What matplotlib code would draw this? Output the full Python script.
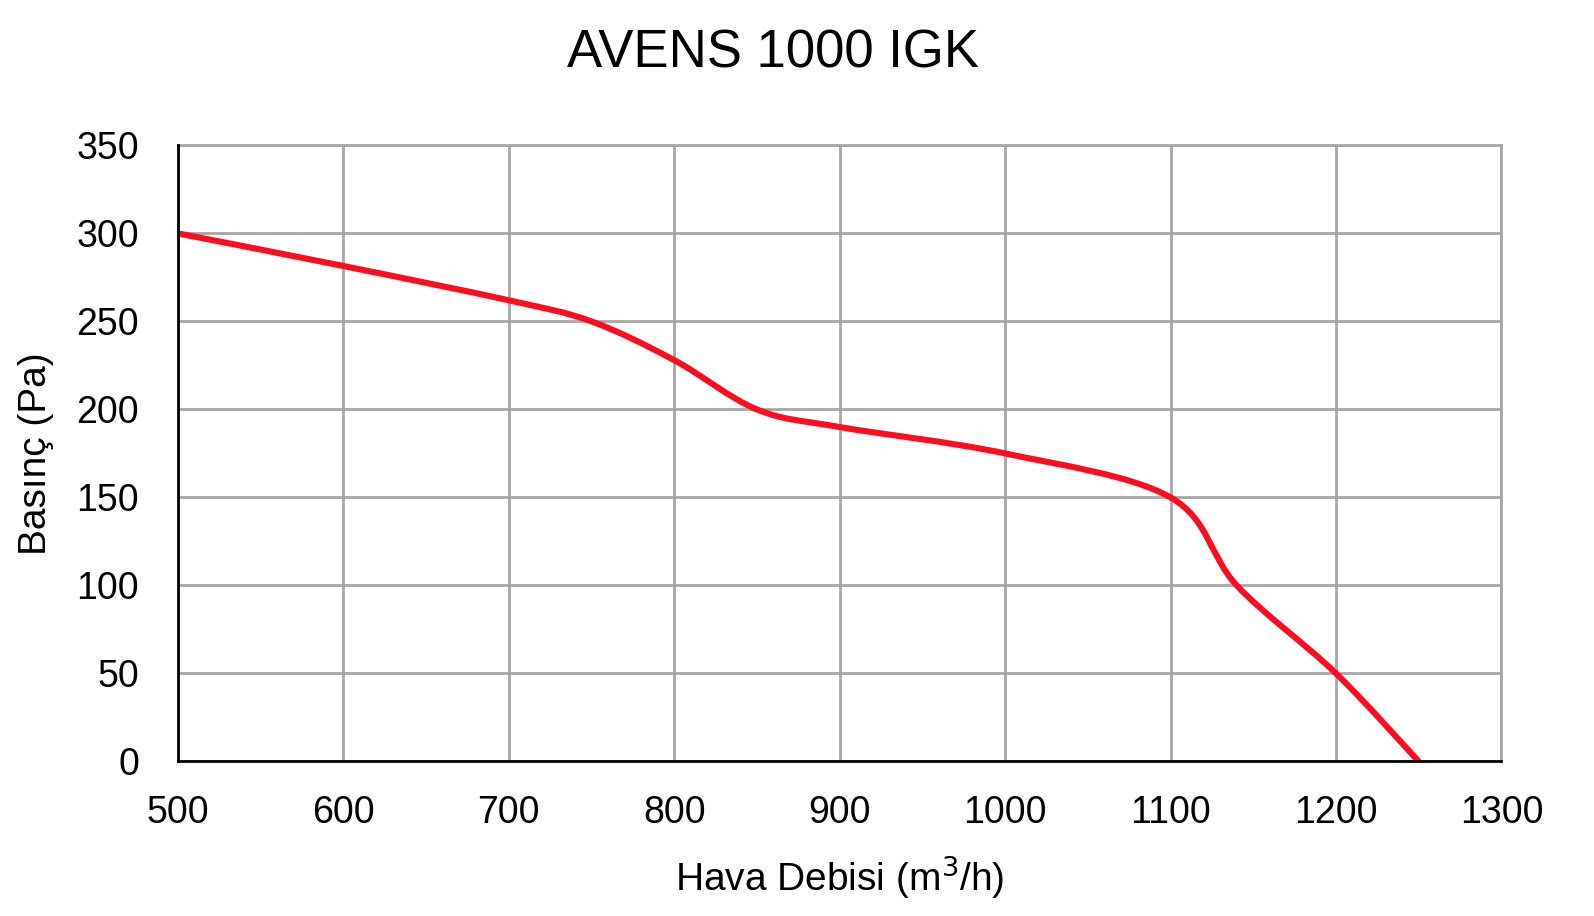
import matplotlib
matplotlib.use('Agg')
import matplotlib.pyplot as plt
from matplotlib.path import Path
from matplotlib.patches import PathPatch

# values (Excel style smoothed line)
flow = [500, 600, 700, 750, 800, 850, 900, 1000, 1100, 1140, 1200, 1250]
pressure = [300, 281.5, 262, 250, 228, 200, 190, 175, 150, 100, 50, 0]

x_ticks = [500, 600, 700, 800, 900, 1000, 1100, 1200, 1300]
y_ticks = [0, 50, 100, 150, 200, 250, 300, 350]

plt.rcParams['font.family'] = ['Liberation Sans', 'DejaVu Sans']

W, H = 1568, 901   # coords measured on the displayed reference
fig = plt.figure(figsize=(15.94, 9.16), dpi=100)
ax = fig.add_axes([175/W, 1 - 749/H, (1477-175)/W, (749-143)/H])

# smoothed line: cubic bezier segments through the points
pts = list(zip(flow, pressure))
verts = [pts[0]]
codes = [Path.MOVETO]
n = len(pts)
for i in range(n - 1):
    p0 = pts[max(i - 1, 0)]
    p1 = pts[i]
    p2 = pts[i + 1]
    p3 = pts[min(i + 2, n - 1)]
    c1 = (p1[0] + (p2[0] - p0[0]) / 6, p1[1] + (p2[1] - p0[1]) / 6)
    c2 = (p2[0] - (p3[0] - p1[0]) / 6, p2[1] - (p3[1] - p1[1]) / 6)
    verts += [c1, c2, p2]
    codes += [Path.CURVE4] * 3
ax.add_patch(PathPatch(Path(verts, codes), facecolor='none', edgecolor='#FF0D1F',
                       linewidth=4.4, capstyle='butt', zorder=3))

ax.set_xlim(500, 1300)
ax.set_ylim(0, 350)
ax.set_xticks(x_ticks)
ax.set_yticks(y_ticks)
ax.grid(True, color='#A6A6A6', linewidth=2.0)
ax.set_axisbelow(True)
ax.tick_params(length=0, labelsize=27, pad=24)
ax.tick_params(axis='y', pad=28)
for side in ['top', 'right']:
    ax.spines[side].set_color('#A6A6A6')
    ax.spines[side].set_linewidth(2.0)
for side in ['left', 'bottom']:
    ax.spines[side].set_color('black')
    ax.spines[side].set_linewidth(2.0)
    ax.spines[side].set_zorder(4)

ax.set_xlabel('Hava Debisi (m$^3$/h)', fontsize=28, labelpad=16)
ax.set_ylabel('Basınç (Pa)', fontsize=28, labelpad=16)
fig.text(0.485, 0.942, 'AVENS 1000 IGK', fontsize=38, ha='center', va='center')

fig.savefig('out.png', dpi=100)
